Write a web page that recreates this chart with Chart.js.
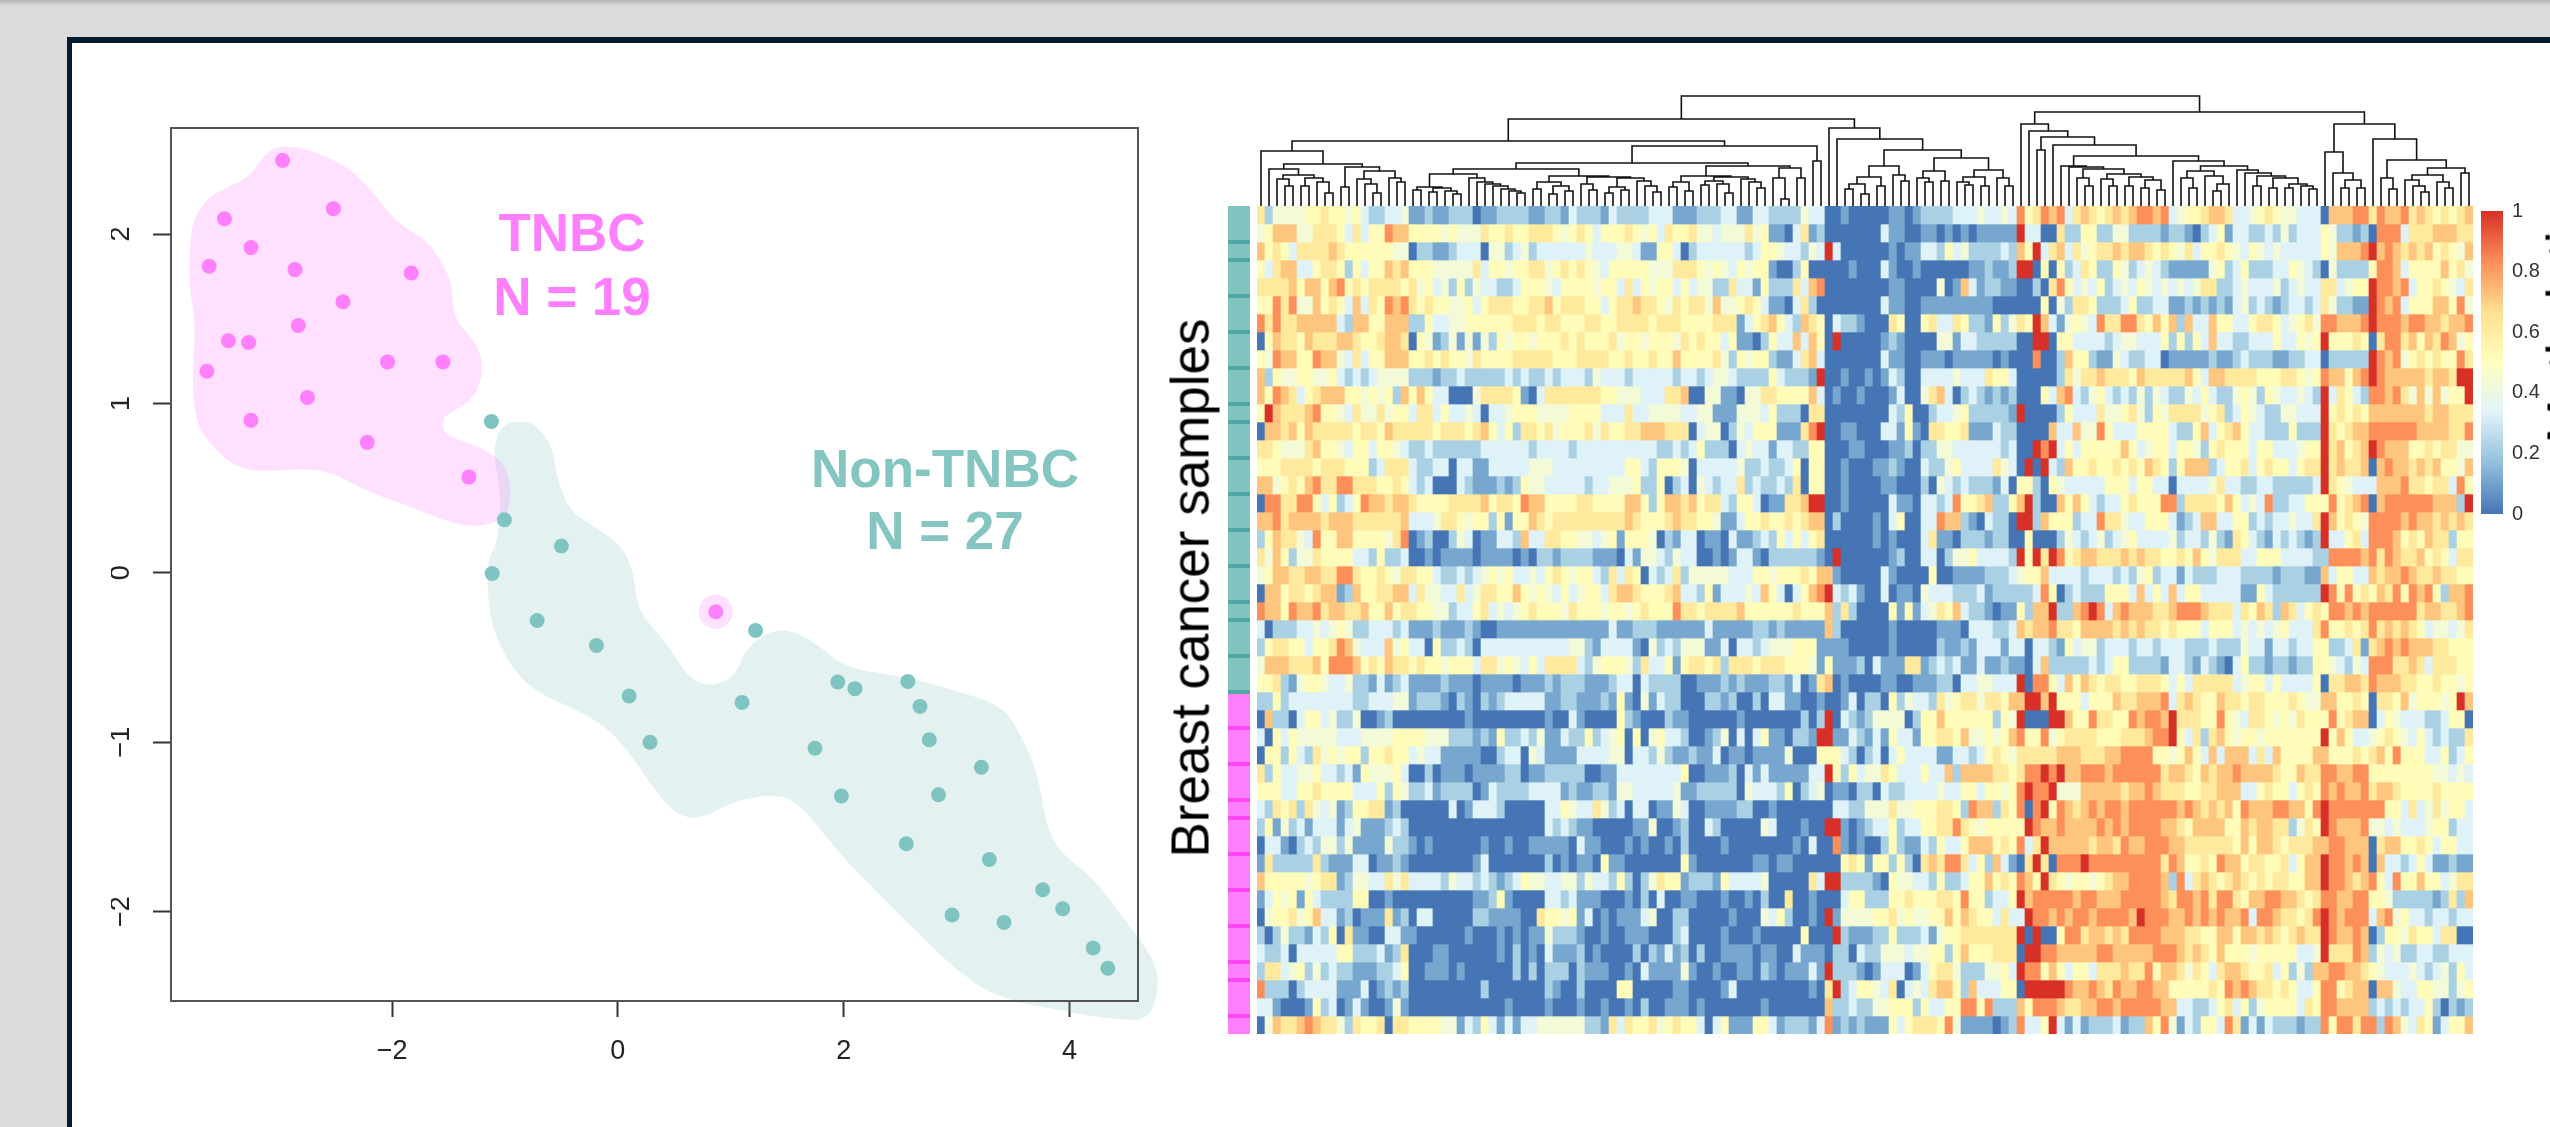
<!DOCTYPE html>
<html><head><meta charset="utf-8">
<script src="https://cdn.jsdelivr.net/npm/chart.js@4"></script>
<style>
html,body{margin:0;padding:0;width:2550px;height:1127px;overflow:hidden;background:#dcdcdc;font-family:"Liberation Sans",Arial,sans-serif}
#top{position:absolute;left:0;top:0;width:2550px;height:6px;background:linear-gradient(#b4b4b4,#dcdcdc)}
#panel{position:absolute;left:67px;top:37px;width:2483px;height:1090px;box-sizing:border-box;background:#fff;border-left:5px solid #051c30;border-top:6px solid #051c30}
canvas{position:absolute;filter:blur(0.6px)}
.t{position:absolute;white-space:nowrap;transform:translate(-50%,-50%);line-height:1;filter:blur(0.5px)}
.b{font-weight:700;font-size:53px;-webkit-text-stroke:0}
</style></head><body>
<div id="top"></div><div id="panel"></div>
<canvas id="scatter" width="1240" height="1127" style="left:0;top:0"></canvas>
<canvas id="dend" width="1216" height="116" style="left:1257px;top:90px"></canvas>
<canvas id="heat" width="1216" height="828" style="left:1257px;top:206px"></canvas>
<canvas id="annot" width="22" height="828" style="left:1228px;top:206px"></canvas>
<canvas id="cbar" width="69" height="345" style="left:2481px;top:190px"></canvas>
<div class="t b" style="left:572px;top:232px;color:#ff80ff">TNBC</div>
<div class="t b" style="left:572px;top:296px;color:#ff80ff">N = 19</div>
<div class="t b" style="left:945px;top:468px;color:#85c5c1">Non-TNBC</div>
<div class="t b" style="left:945px;top:530px;color:#85c5c1">N = 27</div>
<div class="t" style="left:1190px;top:588px;font-size:53px;color:#000;transform:translate(-50%,-50%) rotate(-90deg)">Breast cancer samples</div>
<div class="t" style="left:2566px;top:308px;font-size:53px;color:#000;transform:translate(-50%,-50%) rotate(-90deg)">Methylation</div>
<script>
// ---------- scatter data ----------
const tnbcX=[-2.97,-3.485,-2.52,-3.25,-3.62,-2.86,-1.83,-2.435,-2.83,-3.45,-3.27,-3.64,-2.04,-1.55,-2.75,-3.25,-2.22,-1.32,0.867];
const tnbcY=[2.435,2.09,2.15,1.92,1.81,1.79,1.77,1.60,1.46,1.37,1.36,1.19,1.245,1.245,1.035,0.90,0.77,0.565,-0.23];
const nonX=[-1.12,-1.005,-0.5,-1.113,-0.715,-0.19,1.22,0.10,1.10,0.285,1.948,2.10,2.568,2.676,2.758,1.746,3.22,1.98,2.84,2.555,3.29,3.763,3.94,2.96,3.42,4.21,4.34];
const nonY=[0.893,0.313,0.158,-0.004,-0.282,-0.429,-0.34,-0.727,-0.765,-1.0,-0.645,-0.684,-0.642,-0.789,-0.986,-1.036,-1.148,-1.318,-1.31,-1.60,-1.693,-1.871,-1.983,-2.02,-2.064,-2.215,-2.335];
const tnbcHullX=[-3.07,-2.85,-2.63,-2.41,-2.22,-2.06,-1.90,-1.70,-1.56,-1.47,-1.46,-1.40,-1.27,-1.20,-1.21,-1.30,-1.52,-1.56,-1.52,-1.21,-0.99,-0.94,-0.99,-1.145,-1.30,-1.52,-1.78,-2.22,-2.54,-2.79,-3.17,-3.42,-3.64,-3.74,-3.77,-3.74,-3.79,-3.80,-3.77,-3.64,-3.45,-3.28,-3.18];
const tnbcHullY=[2.51,2.52,2.47,2.40,2.29,2.15,2.04,1.97,1.84,1.71,1.55,1.46,1.37,1.26,1.13,1.01,0.935,0.88,0.81,0.74,0.645,0.47,0.32,0.285,0.27,0.305,0.375,0.48,0.595,0.615,0.595,0.635,0.78,0.90,1.13,1.475,1.65,1.86,2.08,2.21,2.28,2.33,2.42];
const nonHullX=[-1.05,-0.89,-0.73,-0.575,-0.54,-0.42,-0.165,0.06,0.15,0.17,0.44,0.63,0.85,1.04,1.13,1.29,1.51,1.765,2.02,2.52,2.97,3.41,3.57,3.725,3.82,4.20,4.48,4.74,4.80,4.71,4.42,4.04,3.35,2.97,2.71,2.33,1.95,1.575,1.29,0.97,0.75,0.53,0.31,0.06,-0.165,-0.45,-0.765,-0.99,-1.145,-1.16,-1.07,-1.03,-1.11];
const nonHullY=[0.86,0.90,0.88,0.74,0.55,0.355,0.26,0.14,-0.03,-0.22,-0.42,-0.63,-0.67,-0.61,-0.455,-0.36,-0.33,-0.42,-0.565,-0.61,-0.69,-0.785,-0.96,-1.19,-1.60,-1.79,-2.04,-2.27,-2.43,-2.64,-2.64,-2.60,-2.51,-2.33,-2.16,-1.91,-1.65,-1.33,-1.31,-1.365,-1.45,-1.44,-1.27,-1.02,-0.88,-0.785,-0.69,-0.515,-0.26,0.085,0.16,0.47,0.70];
const xTicksMinMax=[-3.958,4.607], yTicksMinMax=[-2.528,2.626];

// ---------- heatmap data: one digit per cell, read through digitLevels; segments start at heatStarts ----------
const digitLevels=[0,0.11,0.22,0.33,0.43,0.52,0.62,0.72,0.83,1];
const heatStarts=[0,71,95,133,139,140];
const heatRows=[
"6244445565 5453223341 1211222011 2222112213 2221322223 3311122233 11332222433|001000001101222233343343|8568783676 5676788783 4556776334 56544333|077788|6|877867656567",
"4577744666 5363558775 5554544465 5655666545 6535556545 3655644344 46451103612|000000031100110101011111|9330062255 2244222212 2102351332 23242333|542212|0|888366677766",
"7565366667 6555555440 2211233304 4234233333 3433344311 5530233333 32355433243|930000001011332534222232|7593673645 6676776565 4635565435 43433333|547778|9|787676756547",
"5367733566 5253557675 5544444635 5455664565 6543555554 4466654543 54551002500|000100031001000000112112|9905052365 2254234321 1111452352 22335432|042222|5|887355557564",
"6666757757 8565666656 4534252433 2235554355 5545536354 5535344226 33152226378|000000001100004017312211|0020685343 5234354343 4346622343 33423433|663455|9|887835565436",
"5586844756 5373658786 5655445356 6655667566 6553566766 5465664744 56531103620|000000031100111111111000|0005042665 2223522331 1212121342 32123323|642211|9|878355577584",
"8686677777 3277557772 2533445555 5566656655 5665566665 6665555666 13567532765|032210006500563365221524|6597314543 8668865757 2733755335 66534564|887778|9|888788776778",
"0576657666 7765567760 5412414142 5455455565 6555645545 5546565535 11025337375|090000012100004413322222|0099055333 3234433352 5253733223 33533545|955565|0|688675768745",
"5487755877 4363557775 5656554655 5566666555 6666556556 5575555642 54552113673|000000031100111011111010|0080027552 1143223301 1111211232 22112233|022222|9|878456565586",
"7254455445 3232344442 2212232222 2323223233 3243332333 3323323443 22225322219|001001013200333343336553|0000026466 7666576666 6753776666 55566545|877578|9|877777677699",
"7587635677 7554545275 7533000466 6651036666 6665544433 3667004411 04466555573|010010001300467302321212|0005378324 5323242432 2435322454 25433432|936532|8|878647474559",
"5976667855 4364464553 6635334303 3455544445 5553336334 4443344111 44435222066|000000003250023345222221|9000025333 6445642546 6664562354 32244333|956565|7|777777677666",
"0776757666 6656657666 6656665675 3526656455 5646556677 7666034402 43555111689|001100033151066556111322|0000733744 8533355553 2257356753 32225222|965677|8|888887777668",
"6654446755 4355355432 2322222233 3333233332 3333333333 2232352220 34331332255|000110001120224433333323|0098935355 5557534553 5542565553 55333455|967567|9|877755656644",
"5556666566 6555236663 2233033113 3333444333 3333335532 5554033333 42232235055|001000112100322453333643|0909327556 5565657652 5777235563 56553566|967667|0|787767675547",
"7745657866 8866655653 2300032111 2125443333 3233444522 5023043233 62322326055|001000011000204323222130|5520543333 3555355330 3333463322 33222223|965433|3|777866566385",
"0886688535 2358776776 5555666675 6658775555 6655557752 5776756632 55301166799|001000003110332385567225|7920075753 2335655588 2666657534 38223355|585678|0|788888877729",
"7786777767 7766666673 3346654552 5155765666 6666667655 5676655411 35565565677|020000103500338772103220|9927555233 8664335553 1237733552 32334336|975654|8|888787767676",
"2576643855 7755554680 1200243011 3327336655 4434515554 0213301103 11232535356|000000101000361102221220|0500024323 4234533334 2332421653 21323212|933563|8|887565766255",
"6475244655 5533252230 0101111011 1101022122 2211103144 3243300101 33102222221|090000001200330244533332|9596985677 6667676655 6575466633 55533332|288887|8|687667565366",
"4577667766 8865565466 5532232345 4533435654 5532636503 2362444443 33554555657|710000031000050011112223|4557333323 3323245233 1322233322 22122211|735533|7|677876676655",
"0775665677 1275566773 6443363466 5575454353 4553677655 5673325133 34375303578|932310030110433322231222|2238502322 2555373537 3553333311 53222222|985856|5|768587852778",
"8775877867 7667557566 5544233563 4345655546 5554554565 5586656666 75555556555|726200005151346573221011|5277922789 8378777667 8887666365 76276356|588787|8|888886776678",
"3022233434 5422333231 1121112100 1111111111 1111311222 1111113111 11221211111|720000001000001110333223|7677866577 7767676656 5553555343 43453336|855656|8|676765344346",
"2566553556 8743337453 3052232033 3333333334 4213333104 2324441130 33234445551|111000001000002112133313|3033215344 2333233233 3222322243 31332335|522361|6|787877766555",
"4777666758 8875657665 6554555366 4543536666 3245554263 3515665626 66566655541|511120311166123231131121|1037222223 2355222213 3213210352 21221225|543243|8|886676366655",
"5562145543 3422131231 1112111011 1101112122 2111233032 2220011121 21112213016|701000011001112203344333|9088537576 5665566653 5366666345 53533335|066776|8|777665565545",
"2252333333 3322333441 2221021021 2333331122 1112151041 3220002212 00203311001|001302205243326456646657|7997955535 5576677783 6765576656 65556544|775565|0|665745554597",
"0722035534 2240012000 0000001000 0000001003 1000052100 0211000000 10000000202|903212444402557555555254|9000997558 6655878879 6665585436 65454655|585677|0|354333223550",
"3053544444 3334444555 5444222121 5223241132 2523450504 5332001240 30351102219|911321315331556657445457|8558456666 5556667889 5362675455 45555555|957533|4|565435323226",
"0552532645 4552556553 4331111100 2330431111 3333440332 4211211301 10111140005|553202303533331133235654|6666677766 6778888554 5753737773 63755557|755565|6|758555335235",
"6253344533 2315444530 0201110111 1220112222 2001133333 3335001112 03131111133|952534465333533727777665|6889897788 8788888867 7657677877 77655766|887788|5|555555544343",
"5553355655 5533352542 2312222013 2222333312 1122144333 3341122222 04333250234|011022032233334335535545|8988944477 7776778766 6556677733 56553565|878778|6|776555565555",
"3265626434 1255661200 0000301333 2000003354 3364230330 1143001111 22001000000|033224446445556652877265|8089587678 7887888888 7876767587 77887758|988888|8|855363464553",
"2514231333 1341112320 0000000000 0000003232 1100000114 0012003200 00043000100|991012335233556686545555|5987787777 8787888877 6577775576 77662465|987778|4|434333455233",
"0331023244 2411114221 0100000010 0100111110 3110001010 0102000010 00000001030|081010025211325335777565|8369777776 7768778887 7666666575 77656667|788777|0|677556535533",
"1622222621 1133011210 0000000130 0000002010 1105110000 0005100000 00110110000|005651552520676886352731|0696088898 8888888868 7556587756 65563577|988787|0|733235311211",
"7555554566 1244336463 3332433232 1235443344 2433252024 6551222153 33340000063|992222105443325223557565|8759654554 5677888872 8367656765 65665577|988767|8|538557553466",
"1354515322 2255001000 0000000112 5100003323 1110001020 3001100010 01020060010|003552225565556658552335|9788888788 7778888876 8878688657 78877656|887788|5|542222212627",
"0455645733 1201116120 3300000221 1110065545 1301011134 0022000001 00043520010|914444556454455757655363|3988787887 8888798887 7878787783 88766568|987888|3|784533233233",
"2024221325 0611003311 0000001000 1010114222 1001001110 0023000010 00100000500|092111225222314556666666|9090058867 7676888877 7665577577 67656766|987787|0|255465536600",
"3223033333 5522231260 0011000000 1020103111 2010000202 1312020011 11011003111|022032244434455257555666|0998877777 8877777888 7676575554 55555334|966687|2|434223322333",
"2663452423 2211122350 0111010000 0020202220 2111001031 1114100100 11021011131|922210133301356642224453|9885753553 6667668577 6465367765 56352427|788776|5|433343234253",
"8222023333 1113012120 0000000020 0000002100 2000055000 0011000013 00000000010|692355436034367752733355|0999998778 7687788775 5555658787 66565335|885677|0|774335544245",
"3310001523 0131001410 0000000000 0100001000 1001001020 0111010000 00010000000|722322445552533558858222|7588876677 8878888877 3322356352 45555365|887777|2|323233520212",
"0476678766 4265560665 5554413253 1313344444 4221636556 4565530351 11553122213|812121115356665841111012|8335931312 2231227584 1325538613 13222122|858868|8|287436513557"
];
const nonTnbcCount=27, tnbcCount=19;
const annotSeparators=[2,3,5,7,9,11,12,14,16,18,20,22,23,25,27,29,31,33,34,36,38,40,42,43,45];
const colorbarTicks=[0,0.2,0.4,0.6,0.8,1];
const palette=['#4575B4','#91BFDB','#E0F3F8','#FFFFBF','#FEE090','#FC8D59','#D73027'];
// ---------- dendrogram: [height, left, right], 0 = leaf ----------
const dendA1=[55,0,[42,[37,0,[31,[27,0,[20,0,0]],[28,[20,0,0],[24,0,[13,0,0]]]]],[39,[19,0,0],[35,[27,0,[22,0,[13,0,0]]],[28,0,[24,0,0]]]]]];
const dendG=[32,[19,[16,0,0],[18,[14,0,0],[15,0,[12,0,0]]]],[28,0,[24,0,[22,0,[20,0,[17,0,[15,0,[13,0,0]]]]]]]];
const dendH=[30,[24,[17,0,0],[20,[12,0,0],[15,0,0]]],[29,[22,0,[16,0,0]],[28,[19,[13,0,0],[16,0,0]],[25,0,[20,0,[14,0,0]]]]]];
const dendF=[40,[30,[24,[19,0,0],[15,0,0]],[29,[25,[21,0,0],[22,0,[13,0,0]]],[27,0,[24,0,[18,0,0]]]]],[38,[28,0,[7,0,0]],[28,0,0]]];
const dendA=[65,dendA1,[60,[43,[37,dendG,dendH],dendF],[45,0,0]]];
const dendB=[78,0,[67,0,[56,[40,[29,[22,[17,0,0],[12,0,0]],[20,0,0]],[31,0,[25,0,0]]],[48,[35,[28,0,[24,0,0]],[25,0,0]],[36,[29,[24,0,[21,0,0]],[20,0,0]],[28,0,[20,0,0]]]]]]];
const dendX=[40,0,[39,0,[37,[28,0,[20,0,0]],[32,[27,0,[20,0,0]],[29,[20,0,0],[26,[18,0,0],[16,0,0]]]]]]];
const dendY=[45,0,[40,[35,[28,0,[18,0,0]],[30,0,[22,[15,0,0],0]]],[36,0,[33,0,[30,[20,0,0],[28,[18,0,0],[22,[18,0,0],[20,0,[17,0,0]]]]]]]]];
const dendR1=[82,0,[75,0,[69,[56,0,0],[61,0,[50,dendX,dendY]]]]];
const dendR2=[82,[54,0,[33,0,[26,[18,0,0],[18,0,0]]]],[67,0,[46,[28,0,[17,0,0]],[38,[31,[26,0,[20,0,[14,0,0]]],[24,0,[18,0,0]]],[33,0,0]]]]];
const dendRoot=[110,[87,dendA,dendB],[94,dendR1,dendR2]];
const nCols=152;

// ---------- helpers ----------
Chart.defaults.animation=false;
Chart.defaults.responsive=false;
Chart.defaults.maintainAspectRatio=false;
Chart.defaults.devicePixelRatio=1;
Chart.defaults.events=[];
Chart.defaults.font.family='"Liberation Sans",Arial,sans-serif';
const noPlug={legend:{display:false},tooltip:{enabled:false}};
function hexRgb(h){return [1,3,5].map(i=>parseInt(h.substr(i,2),16));}
function colorFor(v){const t=Math.max(0,Math.min(1,v))*(palette.length-1);const i=Math.min(palette.length-2,Math.floor(t));const a=hexRgb(palette[i]),b=hexRgb(palette[i+1]),f=t-i;return 'rgb('+a.map((c,k)=>Math.round(c+(b[k]-c)*f)).join(',')+')';}
const heatValues=heatRows.map(r=>{const row=new Array(nCols).fill(0.5);r.replace(/ /g,'').split('|').forEach((seg,s)=>{const start=heatStarts[s],end=s+1<heatStarts.length?heatStarts[s+1]:nCols;for(let c=start;c<end;c++){const d=seg[Math.min(c-start,seg.length-1)];row[c]=digitLevels[+d];}});return row;});
const zip=(xs,ys)=>xs.map((x,i)=>({x,y:ys[i]}));

// ---------- scatter ----------
const hullPlugin={id:'hull',beforeDatasetsDraw(chart){const c=chart.ctx;[[3,'rgba(127,196,192,0.22)'],[2,'rgba(255,128,255,0.24)']].forEach(([idx,col])=>{const pts=chart.getDatasetMeta(idx).data;c.save();c.beginPath();const n=pts.length;const mid=(a,b)=>({x:(a.x+b.x)/2,y:(a.y+b.y)/2});let m=mid(pts[n-1],pts[0]);c.moveTo(m.x,m.y);for(let i=0;i<n;i++){const nx=mid(pts[i],pts[(i+1)%n]);c.quadraticCurveTo(pts[i].x,pts[i].y,nx.x,nx.y);}c.closePath();c.fillStyle=col;c.fill();c.restore();});},
afterDraw(chart){const a=chart.chartArea,c=chart.ctx;c.save();c.strokeStyle='#555';c.lineWidth=2;c.strokeRect(a.left,a.top,a.right-a.left,a.bottom-a.top);c.restore();}};
const minus=v=>String(v).replace('-','\u2212');
new Chart(document.getElementById('scatter'),{type:'scatter',plugins:[hullPlugin],data:{datasets:[
{label:'TNBC',data:zip(tnbcX,tnbcY),backgroundColor:'#ff80ff',borderWidth:0,pointRadius:7.5},
{label:'Non-TNBC',data:zip(nonX,nonY),backgroundColor:'#7fc4c0',borderWidth:0,pointRadius:7.5},
{label:'TNBC hull',data:zip(tnbcHullX,tnbcHullY),pointRadius:0,showLine:false},
{label:'Non-TNBC hull',data:zip(nonHullX,nonHullY),pointRadius:0,showLine:false},
{label:'TNBC outlier halo',data:[{x:tnbcX[18],y:tnbcY[18]}],backgroundColor:'rgba(255,128,255,0.24)',borderWidth:0,pointRadius:17}
]},options:{plugins:noPlug,layout:{padding:{left:111,top:128,right:102,bottom:36}},
scales:{x:{type:'linear',min:xTicksMinMax[0],max:xTicksMinMax[1],afterFit:s=>{s.height=90;},border:{display:false},
grid:{drawOnChartArea:false,drawTicks:true,tickLength:16,tickColor:'#333',tickWidth:2},
ticks:{stepSize:2,includeBounds:false,padding:18,maxRotation:0,color:'#222',font:{size:27},callback:minus}},
y:{type:'linear',min:yTicksMinMax[0],max:yTicksMinMax[1],afterFit:s=>{s.width=60;},border:{display:false},
grid:{drawOnChartArea:false,drawTicks:true,tickLength:18,tickColor:'#333',tickWidth:2},
ticks:{stepSize:1,includeBounds:false,padding:16,minRotation:90,maxRotation:90,crossAlign:'center',color:'#222',font:{size:27},callback:minus}}}}});

// ---------- dendrogram ----------
const dendSegments=[];let leafIdx=0;
(function layout(node){if(node===0){return {x:(leafIdx++)+0.5,y:0};}
const l=layout(node[1]),r=layout(node[2]),h=node[0];
dendSegments.push({x:l.x,y:l.y},{x:l.x,y:h},{x:r.x,y:h},{x:r.x,y:r.y},{x:NaN,y:NaN});
return {x:(l.x+r.x)/2,y:h};})(dendRoot);
new Chart(document.getElementById('dend'),{type:'scatter',data:{datasets:[{label:'dendrogram',data:dendSegments,showLine:true,spanGaps:false,pointRadius:0,borderColor:'#111',borderWidth:1.6,tension:0}]},
options:{plugins:noPlug,layout:{padding:0},scales:{x:{type:'linear',display:false,min:0,max:nCols},y:{type:'linear',display:false,min:0,max:116}}}});

// ---------- heatmap: one floating bar per cell ----------
const colLabels=Array.from({length:nCols},(_,i)=>i+1);
new Chart(document.getElementById('heat'),{type:'bar',data:{labels:colLabels,datasets:heatValues.map((row,r)=>({label:'sample '+(r+1),data:row.map(()=>[r,r+1]),backgroundColor:row.map(colorFor),borderWidth:0,grouped:false,categoryPercentage:1,barPercentage:1}))},
options:{plugins:noPlug,layout:{padding:0},scales:{x:{display:false,offset:true},y:{type:'linear',display:false,min:0,max:heatRows.length,reverse:true}}}});

// ---------- row annotation ----------
const rowCount=nonTnbcCount+tnbcCount;
const annotDs=annotSeparators.map(b=>({data:[[b-0.09,b+0.09]],backgroundColor:b<=nonTnbcCount?'#4fa8a5':'#ff45f5',borderWidth:0,grouped:false,categoryPercentage:1,barPercentage:1}));
annotDs.push({label:'Non-TNBC',data:[[0,nonTnbcCount]],backgroundColor:'#80c4c0',borderWidth:0,grouped:false,categoryPercentage:1,barPercentage:1});
annotDs.push({label:'TNBC',data:[[nonTnbcCount,rowCount]],backgroundColor:'#ff80ff',borderWidth:0,grouped:false,categoryPercentage:1,barPercentage:1});
new Chart(document.getElementById('annot'),{type:'bar',data:{labels:['group'],datasets:annotDs},options:{plugins:noPlug,layout:{padding:0},scales:{x:{display:false},y:{type:'linear',display:false,min:0,max:rowCount,reverse:true}}}});

// ---------- colour bar ----------
new Chart(document.getElementById('cbar'),{type:'bar',data:{labels:['Methylation'],datasets:[{data:[[0,1]],borderWidth:0,categoryPercentage:1,barPercentage:1,
backgroundColor(ctx){const a=ctx.chart.chartArea;if(!a)return palette[3];const g=ctx.chart.ctx.createLinearGradient(0,a.bottom,0,a.top);palette.forEach((p,i)=>g.addColorStop(i/(palette.length-1),p));return g;}}]},
options:{plugins:noPlug,layout:{padding:{top:10,bottom:4,left:0,right:0}},scales:{x:{display:false},
y:{type:'linear',position:'right',min:0,max:1,afterFit:s=>{s.width=47;},border:{display:false},grid:{display:false,drawTicks:false},
afterBuildTicks:s=>{s.ticks=colorbarTicks.map(v=>({value:v}));},
ticks:{padding:9,color:'#333',font:{size:20},callback:v=>String(v)}}}}});
</script>
</body></html>
